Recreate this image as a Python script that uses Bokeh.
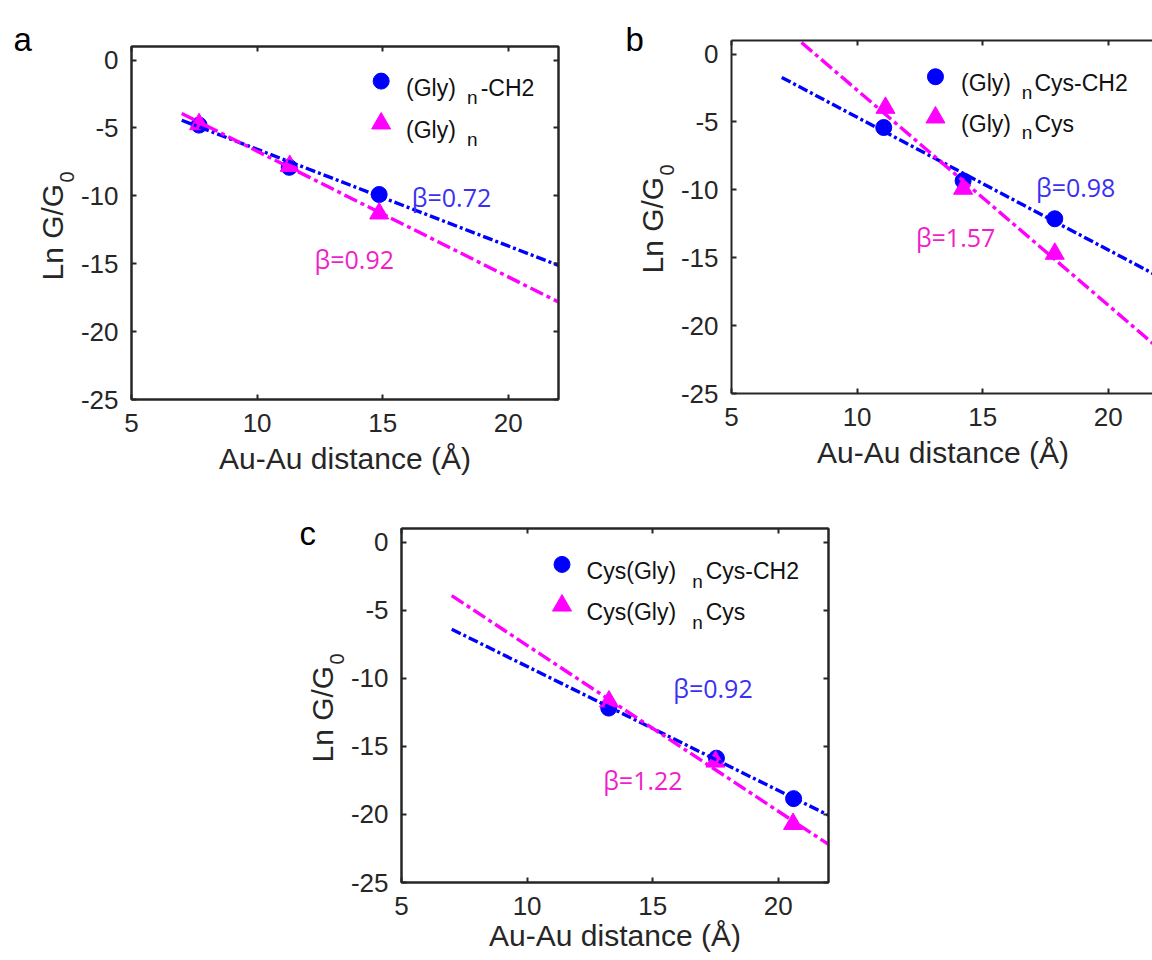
import math
from bokeh.plotting import figure
from bokeh.models import LinearAxis, FixedTicker, Range1d, Spacer
from bokeh.layouts import column, row
from bokeh.core.properties import value
from bokeh.embed import file_html
from bokeh.resources import INLINE

# ---------------- data ----------------
x_ticks = [5, 10, 15, 20]
y_ticks = [-25, -20, -15, -10, -5, 0]
x_tick_labels = ["5", "10", "15", "20"]
y_tick_labels = ["-25", "-20", "-15", "-10", "-5", "0"]
x_title = "Au-Au distance (Å)"
y_title = ("Ln G/G", "0")

# Panel a : (Gly)n-CH2 vs (Gly)n
a_ch2_x = [7.69, 11.28, 14.86]
a_ch2_y = [-4.79, -7.90, -9.90]
a_nat_x = [7.69, 11.30, 14.86]
a_nat_y = [-4.72, -7.80, -11.30]
a_fit_x = [7.0, 22.0]
a_fit_ch2_y = [-4.43, -15.12]
a_fit_nat_y = [-3.93, -17.82]
a_beta = ["β=0.72", "β=0.92"]
a_legend = [("(Gly)", "n", "-CH2"), ("(Gly)", "n", "")]

# Panel b : (Gly)nCys-CH2 vs (Gly)nCys
b_ch2_x = [11.06, 14.22, 17.87]
b_ch2_y = [-5.41, -9.33, -12.13]
b_nat_x = [11.13, 14.22, 17.87]
b_nat_y = [-3.96, -9.92, -14.71]
b_fit_x = [7.0, 22.0]
b_fit_ch2_y = [-1.72, -16.38]
b_fit_nat_y = [2.10, -21.67]
b_beta = ["β=0.98", "β=1.57"]
b_legend = [("(Gly)", "n", "Cys-CH2"), ("(Gly)", "n", "Cys")]

# Panel c : Cys(Gly)nCys-CH2 vs Cys(Gly)nCys
c_ch2_x = [13.25, 17.54, 20.61]
c_ch2_y = [-12.19, -15.87, -18.84]
c_nat_x = [13.26, 17.50, 20.59]
c_nat_y = [-11.70, -16.12, -20.70]
c_fit_x = [7.0, 22.0]
c_fit_ch2_y = [-6.40, -20.06]
c_fit_nat_y = [-3.93, -22.20]
c_beta = ["β=0.92", "β=1.22"]
c_legend = [("Cys(Gly)", "n", "Cys-CH2"), ("Cys(Gly)", "n", "Cys")]

# ---------------- style ----------------
BLUE = "#0000ff"
MAG = "#ff00ff"
BETA_BLUE = "#3b2ff2"
BETA_MAG = "#f01ec8"
AX = "#262626"
FONT = "Liberation Sans"
BFONT = "Open Sans"


def style_axis(ax, labels=True, standoff=14):
    ax.axis_line_color = AX
    ax.axis_line_width = 2
    ax.major_tick_line_color = AX
    ax.major_tick_line_width = 2
    ax.major_tick_in = 5
    ax.major_tick_out = 0
    ax.minor_tick_line_color = None
    if labels:
        ax.major_label_text_font = FONT
        ax.major_label_text_font_size = "26px"
        ax.major_label_text_color = AX
        ax.major_label_standoff = standoff
    else:
        ax.major_label_text_font_size = "1px"
        ax.major_label_text_color = None
        ax.major_label_standoff = 0


def panel(xend, fw, fh, borders, right_axis, xlab_standoff,
          ch2_x, ch2_y, nat_x, nat_y, fit_x, fit_ch2, fit_nat,
          beta, beta_pos, legend, leg_pos):
    bl, br, bt, bb = borders
    p = figure(frame_width=fw, frame_height=fh,
               x_range=Range1d(5, xend), y_range=Range1d(-25, 1),
               output_backend="svg", toolbar_location=None,
               min_border_left=bl, min_border_right=br,
               min_border_top=bt, min_border_bottom=bb,
               background_fill_color="white", border_fill_color="white")
    p.grid.visible = False
    p.outline_line_color = AX if right_axis else None
    p.outline_line_width = 2

    p.xaxis.ticker = FixedTicker(ticks=x_ticks)
    p.xaxis.major_label_overrides = {t: s for t, s in zip(x_ticks, x_tick_labels)}
    p.yaxis.ticker = FixedTicker(ticks=y_ticks)
    p.yaxis.major_label_overrides = {t: s for t, s in zip(y_ticks, y_tick_labels)}
    style_axis(p.xaxis[0], standoff=14)
    style_axis(p.yaxis[0], standoff=13)
    p.xaxis.axis_label = x_title
    p.xaxis.axis_label_text_font = FONT
    p.xaxis.axis_label_text_font_size = "30px"
    p.xaxis.axis_label_text_font_style = "normal"
    p.xaxis.axis_label_text_color = AX
    p.xaxis.axis_label_standoff = xlab_standoff

    top = LinearAxis(ticker=FixedTicker(ticks=x_ticks))
    style_axis(top, labels=False)
    p.add_layout(top, "above")
    if right_axis:
        right = LinearAxis(ticker=FixedTicker(ticks=y_ticks))
        style_axis(right, labels=False)
        p.add_layout(right, "right")

    # data
    p.scatter(ch2_x, ch2_y, marker="circle", size=16, color=BLUE)
    p.scatter(nat_x, nat_y, marker="triangle", size=19, color=MAG)
    p.line(fit_x, fit_ch2, line_color=BLUE, line_width=3.4, line_dash="10 3 3 3")
    p.line(fit_x, fit_nat, line_color=MAG, line_width=3.4, line_dash="14 4 4 4")

    # beta annotations
    for txt, (bx, by), col in zip(beta, beta_pos, [BETA_BLUE, BETA_MAG]):
        p.text([bx], [by], text=[txt], text_color=col,
               text_font=value(BFONT), text_font_size="25px",
               text_align="left", text_baseline="alphabetic")

    # custom legend with subscripts
    (mx, my1, my2, tx, nx, sx, dy_n) = leg_pos
    p.scatter([mx], [my1], marker="circle", size=16, color=BLUE)
    p.scatter([mx], [my2], marker="triangle", size=19, color=MAG)
    for (main, sub, tail), my in zip(legend, [my1, my2]):
        base = my - 0.47
        p.text([tx], [base], text=[main], text_color="#111111",
               text_font=value(FONT), text_font_size="23px",
               text_align="left", text_baseline="alphabetic")
        p.text([nx], [base - dy_n], text=[sub], text_color="#111111",
               text_font=value(FONT), text_font_size="19px",
               text_align="left", text_baseline="alphabetic")
        if tail:
            p.text([sx], [base], text=[tail], text_color="#111111",
                   text_font=value(FONT), text_font_size="23px",
                   text_align="left", text_baseline="alphabetic")
    return p


def side_strip(w, h, letter, letter_xy, ylab_xy, sub_xy):
    """Narrow strip to the left of a panel: panel letter and rotated y title."""
    s = figure(width=w, height=h, x_range=Range1d(0, w), y_range=Range1d(h, 0),
               output_backend="svg", toolbar_location=None,
               x_axis_location=None, y_axis_location=None,
               min_border_left=0, min_border_right=0, min_border_top=0, min_border_bottom=0,
               background_fill_color="white", border_fill_color="white")
    s.grid.visible = False
    s.outline_line_color = None
    s.text([letter_xy[0]], [letter_xy[1]], text=[letter], text_color="#000000",
           text_font=value(FONT), text_font_size="33px",
           text_align="left", text_baseline="alphabetic")
    s.text([ylab_xy[0]], [ylab_xy[1]], text=[y_title[0]], angle=math.pi / 2,
           text_color=AX, text_font=value(FONT), text_font_size="30px",
           text_align="left", text_baseline="alphabetic")
    s.text([sub_xy[0]], [sub_xy[1]], text=[y_title[1]], angle=math.pi / 2,
           text_color=AX, text_font=value(FONT), text_font_size="20px",
           text_align="left", text_baseline="alphabetic")
    return s


sa = side_strip(77, 484, "a", (13, 39), (52, 280), (66, 182))
pa = panel(22.0, 427, 353, (53, 43, 46, 85), True, 7,
           a_ch2_x, a_ch2_y, a_nat_x, a_nat_y, a_fit_x, a_fit_ch2_y, a_fit_nat_y,
           a_beta, [(16.16, -10.08), (12.29, -14.66)],
           a_legend, (14.94, -1.55, -4.67, 15.93, 18.36, 18.9, 0.72))

sb = side_strip(76, 484, "b", (24, 39), (51, 273), (65, 175))
pb = panel(5 + 423 / 25.12, 423, 353, (53, 0, 40, 91), False, 7,
           b_ch2_x, b_ch2_y, b_nat_x, b_nat_y, b_fit_x, b_fit_ch2_y, b_fit_nat_y,
           b_beta, [(17.12, -9.80), (12.34, -13.45)],
           b_legend, (13.12, -1.67, -4.67, 14.14, 16.55, 17.06, 0.66))

sc = side_strip(67, 476, "c", (19, 49), (42, 278), (56, 180))
pc = panel(22.0, 427, 354, (52, 40, 44, 78), True, 1,
           c_ch2_x, c_ch2_y, c_nat_x, c_nat_y, c_fit_x, c_fit_ch2_y, c_fit_nat_y,
           c_beta, [(15.82, -10.68), (13.03, -17.47)],
           c_legend, (11.39, -1.64, -4.66, 12.37, 16.58, 17.11, 0.76))

# each figure sits in its own column so that the row does not align their frames
layout = column(row(column(sa), column(pa), column(sb), column(pb)),
                row(Spacer(width=280, height=10), column(sc), column(pc)))

open("out.html", "w").write(file_html(layout, INLINE))
